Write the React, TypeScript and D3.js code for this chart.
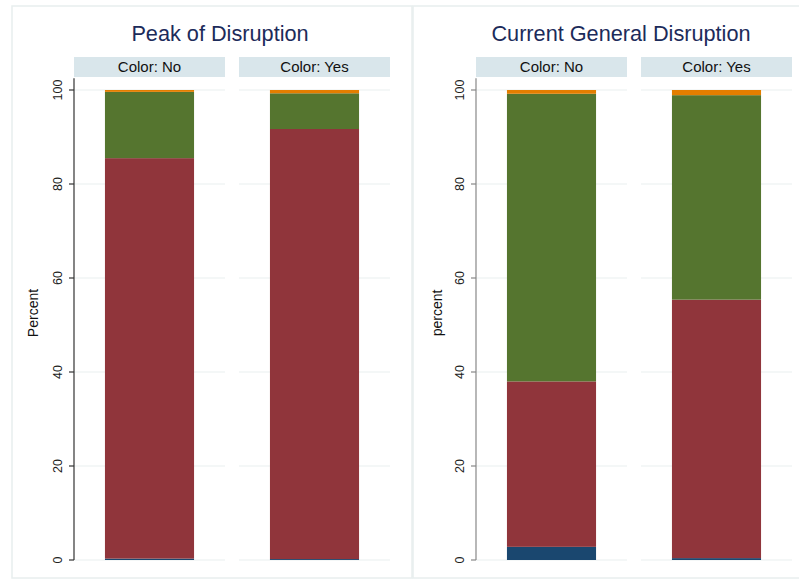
import React from "react";
import * as d3 from "d3";

const categories = ["Color: No", "Color: Yes"];
const seriesNames = ["s1", "s2", "s3", "s4"];
const seriesColors = ["#1a476f", "#90353b", "#55752f", "#e37e00"];

// Peak of Disruption: segment sizes (percent), one per category
const peakBlue = [0.3, 0.2];
const peakRed = [85.2, 91.5];
const peakGreen = [14.1, 7.6];
const peakOrange = [0.4, 0.7];

// Current General Disruption
const curBlue = [2.8, 0.4];
const curRed = [35.2, 55.0];
const curGreen = [61.2, 43.5];
const curOrange = [0.8, 1.1];

const yTicks = [0, 20, 40, 60, 80, 100];

const panels = [
  {
    title: "Peak of Disruption",
    ylabel: "Percent",
    series: [peakBlue, peakRed, peakGreen, peakOrange],
    axisX: 74,
    right: 390,
    titleX: 220,
    ylabelX: 38,
    box: [12, 6, 412, 578],
    axisColor: "#333",
  },
  {
    title: "Current General Disruption",
    ylabel: "percent",
    series: [curBlue, curRed, curGreen, curOrange],
    axisX: 476,
    right: 792,
    titleX: 621,
    ylabelX: 442,
    box: [413, 6, 805, 578],
    axisColor: "#888",
  },
];

const top = 90;
const bottom = 560;

function Panel({ p }: { p: (typeof panels)[number] }) {
  const y = d3.scaleLinear().domain([0, 100]).range([bottom, top]);
  const x = d3
    .scaleBand<string>()
    .domain(categories)
    .range([p.axisX, p.right])
    .paddingInner(14 / 165)
    .paddingOuter(0);
  const bw = x.bandwidth();
  const barW = bw * 0.59;
  const rows = categories.map((c, i) => {
    const o: any = { cat: c };
    seriesNames.forEach((s, k) => (o[s] = p.series[k][i]));
    return o;
  });
  const stacked = d3.stack<any>().keys(seriesNames)(rows);
  const [bx0, by0, bx1, by1] = p.box;
  return (
    <g>
      <rect
        x={bx0}
        y={by0}
        width={bx1 - bx0}
        height={by1 - by0}
        fill="white"
        stroke="#e8eeee"
        strokeWidth={1.5}
      />
      <text
        x={p.titleX}
        y={41}
        textAnchor="middle"
        fontSize={21.7}
        fill="#1c2b5a"
        fontFamily="Liberation Sans, Arial, sans-serif"
      >
        {p.title}
      </text>
      {categories.map((c) => (
        <g key={c}>
          <rect x={x(c)} y={57} width={bw} height={20} fill="#d9e6eb" />
          <text
            x={(x(c) as number) + bw / 2}
            y={72}
            textAnchor="middle"
            fontSize={15}
            fill="#111"
            fontFamily="Liberation Sans, Arial, sans-serif"
          >
            {c}
          </text>
          {yTicks.map((t) => (
            <line
              key={t}
              x1={x(c)}
              x2={(x(c) as number) + bw}
              y1={y(t)}
              y2={y(t)}
              stroke="#eaf0f0"
              strokeWidth={1.2}
            />
          ))}
        </g>
      ))}
      {stacked.map((layer, k) =>
        layer.map((d, i) => {
          const cx = (x(categories[i]) as number) + bw / 2;
          return (
            <rect
              key={k + "-" + i}
              x={cx - barW / 2}
              y={y(d[1])}
              width={barW}
              height={y(d[0]) - y(d[1])}
              fill={seriesColors[k]}
            />
          );
        })
      )}
      <line
        x1={p.axisX}
        x2={p.axisX}
        y1={y(0)}
        y2={y(102.5)}
        stroke={p.axisColor}
        strokeWidth={1.2}
      />
      {yTicks.map((t) => (
        <g key={t}>
          <line
            x1={p.axisX - 5}
            x2={p.axisX}
            y1={y(t)}
            y2={y(t)}
            stroke={p.axisColor}
            strokeWidth={1.2}
          />
          <text
            transform={`translate(${p.axisX - 12},${y(t)}) rotate(-90)`}
            textAnchor="middle"
            fontSize={12.5}
            fill="#222"
            fontFamily="Liberation Sans, Arial, sans-serif"
          >
            {t}
          </text>
        </g>
      ))}
      <text
        transform={`translate(${p.ylabelX},313) rotate(-90)`}
        textAnchor="middle"
        fontSize={14}
        fill="#111"
        fontFamily="Liberation Sans, Arial, sans-serif"
      >
        {p.ylabel}
      </text>
    </g>
  );
}

export default function App() {
  return (
    <svg
      width={799}
      height={581}
      style={{ position: "absolute", left: 0, top: 0, background: "white" }}
    >
      <rect x={0} y={0} width={799} height={581} fill="white" />
      {panels.map((p) => (
        <Panel key={p.title} p={p} />
      ))}
    </svg>
  );
}
